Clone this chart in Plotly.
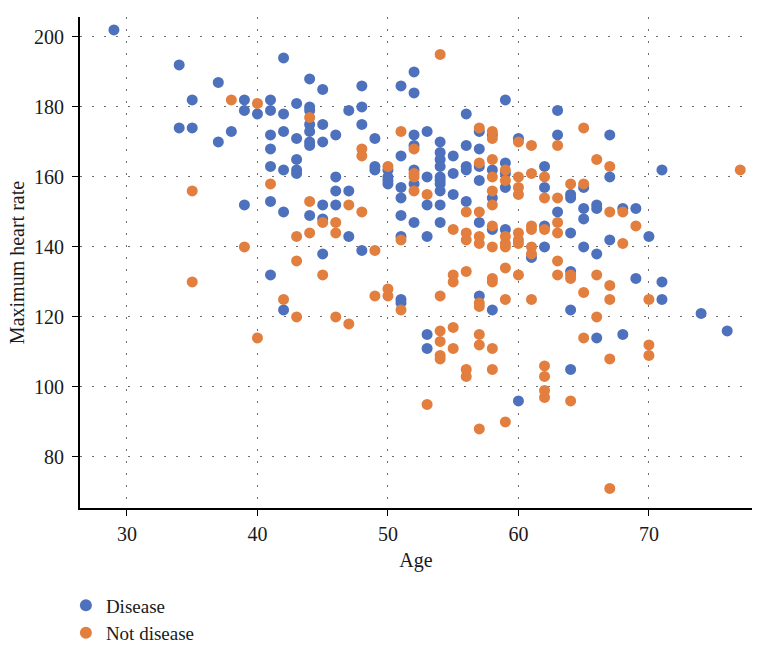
import plotly.graph_objects as go

# Disease (blue)
disease_age = [29, 34, 34, 35, 35, 37, 37, 38, 39, 39, 39, 40,
               41, 41, 41, 41, 41, 41, 41,
               42, 42, 42, 42, 42, 42,
               43, 43, 43, 43, 43,
               44, 44, 44, 44, 44, 44, 44, 44,
               45, 45, 45, 45, 45, 45,
               46, 46, 46, 46,
               47, 47, 47,
               48, 48, 48, 48,
               49, 49, 49,
               50, 50, 50, 50,
               51, 51, 51, 51, 51, 51, 51, 51,
               52, 52, 52, 52, 52, 52, 52,
               53, 53, 53, 53, 53, 53,
               54, 54, 54, 54, 54, 54, 54, 54, 54, 54,
               55, 55, 55,
               56, 56, 56, 56, 56,
               57, 57, 57, 57, 57, 57,
               58, 58, 58, 58, 58,
               59, 59, 59, 59, 59,
               60, 60,
               61,
               62, 62, 62, 62,
               63, 63, 63,
               64, 64, 64, 64, 64, 64,
               65, 65, 65, 65,
               66, 66, 66, 66,
               67, 67, 67,
               68, 68,
               69, 69,
               70,
               71, 71, 71,
               74, 76]
disease_hr = [202, 192, 174, 182, 174, 187, 170, 173, 182, 179, 152, 178,
              182, 179, 172, 168, 163, 153, 132,
              194, 178, 173, 162, 150, 122,
              181, 171, 165, 162, 161,
              188, 180, 179, 175, 173, 170, 169, 149,
              185, 175, 170, 152, 148, 138,
              172, 160, 156, 152,
              179, 156, 143,
              186, 180, 175, 139,
              171, 163, 162,
              162, 160, 159, 158,
              186, 166, 157, 154, 149, 143, 125, 124,
              190, 184, 172, 169, 162, 158, 147,
              173, 160, 152, 143, 115, 111,
              170, 167, 165, 163, 160, 159, 158, 156, 152, 147,
              166, 161, 155,
              178, 169, 163, 162, 153,
              173, 168, 163, 159, 147, 126,
              172, 162, 154, 145, 122,
              182, 164, 161, 157, 145,
              171, 96,
              137,
              163, 157, 146, 140,
              179, 172, 150,
              155, 154, 144, 133, 122, 105,
              157, 151, 148, 140,
              152, 151, 138, 114,
              172, 160, 142,
              151, 115,
              151, 131,
              143,
              162, 130, 125,
              121, 116]

# Not disease (orange)
nodisease_age = [35, 35, 38, 39, 40, 40, 41, 42,
                 43, 43, 43, 44, 44, 44, 45, 45,
                 46, 46, 46, 47, 47, 48, 48, 48,
                 49, 49, 50, 50, 50, 51, 51, 51,
                 52, 52, 52, 52, 53, 53,
                 54, 54, 54, 54, 54, 54,
                 55, 55, 55, 55, 55,
                 56, 56, 56, 56, 56, 56,
                 57, 57, 57, 57, 57, 57, 57, 57, 57, 57,
                 58, 58, 58, 58, 58, 58, 58, 58, 58, 58, 58, 58,
                 59, 59, 59, 59, 59, 59, 59, 59,
                 60, 60, 60, 60, 60, 60, 60, 60,
                 61, 61, 61, 61, 61, 61, 61,
                 62, 62, 62, 62, 62, 62, 62,
                 63, 63, 63, 63, 63, 63,
                 64, 64, 64, 64,
                 65, 65, 65, 65,
                 66, 66, 66,
                 67, 67, 67, 67, 67, 67,
                 68, 68, 69,
                 70, 70, 70, 77]
nodisease_hr = [156, 130, 182, 140, 181, 114, 158, 125,
                143, 136, 120, 177, 153, 144, 147, 132,
                147, 144, 120, 152, 118, 168, 166, 150,
                139, 126, 163, 128, 126, 173, 142, 122,
                168, 161, 160, 156, 155, 95,
                195, 126, 116, 113, 109, 108,
                145, 132, 130, 117, 111,
                150, 144, 142, 133, 105, 103,
                174, 164, 150, 143, 141, 124, 123, 115, 112, 88,
                173, 171, 165, 160, 156, 152, 146, 140, 131, 130, 111, 105,
                162, 159, 143, 141, 140, 134, 125, 90,
                170, 160, 157, 155, 144, 142, 141, 132,
                169, 161, 146, 145, 140, 138, 125,
                160, 154, 145, 106, 103, 99, 97,
                169, 154, 147, 144, 136, 132,
                158, 132, 131, 96,
                174, 158, 127, 114,
                165, 132, 120,
                163, 150, 129, 125, 108, 71,
                150, 141, 146,
                125, 112, 109, 162]

x_ticks = [30, 40, 50, 60, 70]
y_ticks = [80, 100, 120, 140, 160, 180, 200]

BLUE = "#4D71BD"
ORANGE = "#E27E3E"
FONT = "Liberation Serif"
TXT = "#1a1a1a"

fig = go.Figure()
fig.add_trace(go.Scatter(x=disease_age, y=disease_hr, mode="markers", name="Disease",
                         marker=dict(color=BLUE, size=11, line=dict(width=0))))
fig.add_trace(go.Scatter(x=nodisease_age, y=nodisease_hr, mode="markers", name="Not disease",
                         marker=dict(color=ORANGE, size=11, line=dict(width=0))))

axis_common = dict(
    showline=True, linecolor="black", linewidth=1.8, mirror=False,
    ticks="outside", ticklen=6, tickwidth=1.3, tickcolor="black",
    showgrid=True, gridcolor="#6f6f6f", gridwidth=1, griddash="2px,10px",
    zeroline=False, automargin=False,
    tickfont=dict(family=FONT, size=20, color=TXT),
)

fig.update_layout(
    width=760, height=645,
    margin=dict(l=80, r=8, t=17, b=137),
    plot_bgcolor="white", paper_bgcolor="white",
    font=dict(family=FONT, size=20, color=TXT),
    xaxis=dict(range=[26.4, 77.9], tickvals=x_ticks, ticklabelstandoff=1,
               title=dict(text="Age", font=dict(family=FONT, size=20, color=TXT), standoff=9),
               **axis_common),
    yaxis=dict(range=[65.4, 205.7], tickvals=y_ticks, ticklabelstandoff=4,
               title=dict(text="Maximum heart rate", font=dict(family=FONT, size=20, color=TXT), standoff=4),
               **axis_common),
    legend=dict(x=-0.021, y=0.091, xref="paper", yref="container",
                xanchor="left", yanchor="top", orientation="v",
                font=dict(family=FONT, size=19, color=TXT), itemsizing="constant",
                tracegroupgap=0, bgcolor="rgba(0,0,0,0)"),
)

fig.write_html("out.html")
